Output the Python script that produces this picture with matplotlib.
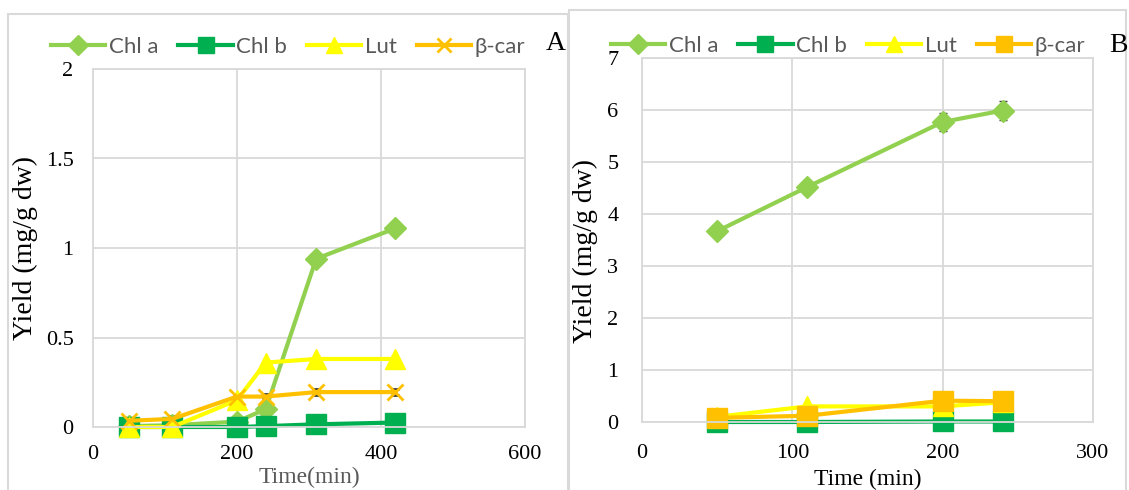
import matplotlib
matplotlib.use("Agg")
import matplotlib.pyplot as plt
from matplotlib.patches import Rectangle
from matplotlib.lines import Line2D
from matplotlib.ticker import FuncFormatter

# Dados - painel A
time_a = [50, 110, 200, 240, 310, 420]
chla_a = [0.005, 0.01, 0.03, 0.10, 0.94, 1.11]
chlb_a = [0.0, 0.0, 0.0, 0.005, 0.015, 0.025]
lut_a = [0.0, 0.0, 0.15, 0.36, 0.38, 0.38]
bcar_a = [0.035, 0.045, 0.17, 0.17, 0.195, 0.195]
err_chla_a = [0.01, 0.01, 0.01, 0.01, 0.02, 0.03]
err_chlb_a = [0.005, 0.005, 0.005, 0.005, 0.005, 0.005]
err_lut_a = [0.005, 0.005, 0.01, 0.01, 0.01, 0.01]
err_bcar_a = [0.015, 0.015, 0.015, 0.015, 0.015, 0.015]

# Dados - painel B
time_b = [50, 110, 200, 240]
chla_b = [3.67, 4.52, 5.77, 5.99]
chlb_b = [0.0, 0.0, 0.01, 0.01]
lut_b = [0.10, 0.30, 0.30, 0.38]
bcar_b = [0.08, 0.12, 0.41, 0.40]
err_chla_b = [0.11, 0.14, 0.17, 0.18]

labels = ["Chl a", "Chl b", "Lut", "β-car"]
colors = ["#92D050", "#00B050", "#FFFF00", "#FFC000"]

W, H = 1129, 490
SERIF = "Liberation Serif"
SANS = "Lato"
GRID = "#D9D9D9"
ERR = dict(ecolor="#404040", elinewidth=1.2, capsize=3)

fig = plt.figure(figsize=(W / 100, H / 100), dpi=100)

# molduras dos dois painéis
fig.add_artist(Rectangle((8 / W, -0.1), 560 / W, 1.1 - 14 / H, transform=fig.transFigure,
                         fill=False, ec=GRID, lw=1.5))
fig.add_artist(Rectangle((569 / W, -0.1), 557 / W, 1.1 - 10 / H, transform=fig.transFigure,
                         fill=False, ec=GRID, lw=1.5))

axA = fig.add_axes([93 / W, 63 / H, 432 / W, 358 / H])
axB = fig.add_axes([642 / W, 68 / H, 451 / W, 364 / H])


def style(ax, xpad, ypad):
    ax.grid(True, color=GRID, lw=1.3)
    ax.set_axisbelow(True)
    for s in ax.spines.values():
        s.set_color(GRID)
        s.set_linewidth(1.3)
    ax.tick_params(length=0, labelsize=16)
    ax.tick_params(axis="x", pad=xpad)
    ax.tick_params(axis="y", pad=ypad)
    for t in ax.get_xticklabels() + ax.get_yticklabels():
        t.set_fontfamily(SERIF)
    ax.yaxis.set_major_formatter(FuncFormatter(lambda v, p: "%g" % v))


def legend(markers, x, y):
    handles = [Line2D([], [], color=c, marker=m, ms=ms, mew=mew, lw=3)
               for c, (m, ms, mew) in zip(colors, markers)]
    fig.legend(handles, labels, loc="center left", bbox_to_anchor=(x / W, 1 - y / H),
               ncol=4, frameon=False, prop={"family": SANS, "size": 16},
               labelcolor="#595959", handlelength=2.45, handletextpad=0.15,
               columnspacing=0.9, borderaxespad=0, borderpad=0)


# Painel A
ax = axA
ax.errorbar(time_a, chla_a, yerr=err_chla_a, color=colors[0], marker="D", ms=11, lw=3,
            clip_on=False, **ERR)
ax.errorbar(time_a, chlb_a, yerr=err_chlb_a, color=colors[1], marker="s", ms=14, lw=3,
            clip_on=False, **ERR)
ax.errorbar(time_a, lut_a, yerr=err_lut_a, color=colors[2], marker="^", ms=15, lw=3,
            clip_on=False, **ERR)
ax.errorbar(time_a, bcar_a, yerr=err_bcar_a, color=colors[3], marker="x", ms=12, mew=2, lw=3,
            clip_on=False, **ERR)
ax.set_xlim(0, 600)
ax.set_ylim(0, 2)
ax.set_xticks([0, 200, 400, 600])
ax.set_yticks([0, 0.5, 1, 1.5, 2])
style(ax, 13, 14)
ax.set_ylabel("Yield (mg/g dw)", fontfamily=SERIF, fontsize=20)
ax.yaxis.set_label_coords(-0.127, 0.5)
ax.set_xlabel("Time(min)", fontfamily=SERIF, fontsize=17, color="#595959", va="top")
ax.xaxis.set_label_coords(0.5, -0.112)
legend([("D", 10, 1), ("s", 11, 1), ("^", 11, 1), ("x", 10, 2)], 51, 47)
fig.text(556 / W, 1 - 43 / H, "A", fontfamily=SERIF, fontsize=20, ha="center", va="center")

# Painel B
ax = axB
ax.errorbar(time_b, chla_b, yerr=err_chla_b, color=colors[0], marker="D", ms=11, lw=3,
            clip_on=False, **ERR)
ax.plot(time_b, chlb_b, color=colors[1], marker="s", ms=14, lw=3, clip_on=False)
ax.plot(time_b, lut_b, color=colors[2], marker="^", ms=15, lw=3, clip_on=False)
ax.plot(time_b, bcar_b, color=colors[3], marker="s", ms=14, lw=3, clip_on=False)
ax.set_xlim(0, 300)
ax.set_ylim(0, 7)
ax.set_xticks([0, 100, 200, 300])
ax.set_yticks(range(0, 8))
style(ax, 16, 17)
ax.set_ylabel("Yield (mg/g dw)", fontfamily=SERIF, fontsize=20)
ax.yaxis.set_label_coords(-0.098, 0.47)
ax.set_xlabel("Time (min)", fontfamily=SERIF, fontsize=17, va="top")
ax.xaxis.set_label_coords(0.5, -0.13)
legend([("D", 10, 1), ("s", 11, 1), ("^", 11, 1), ("s", 11, 1)], 611, 46)
fig.text(1118 / W, 1 - 45 / H, "B", fontfamily=SERIF, fontsize=20, ha="center", va="center")

plt.savefig("out.png", dpi=100)
